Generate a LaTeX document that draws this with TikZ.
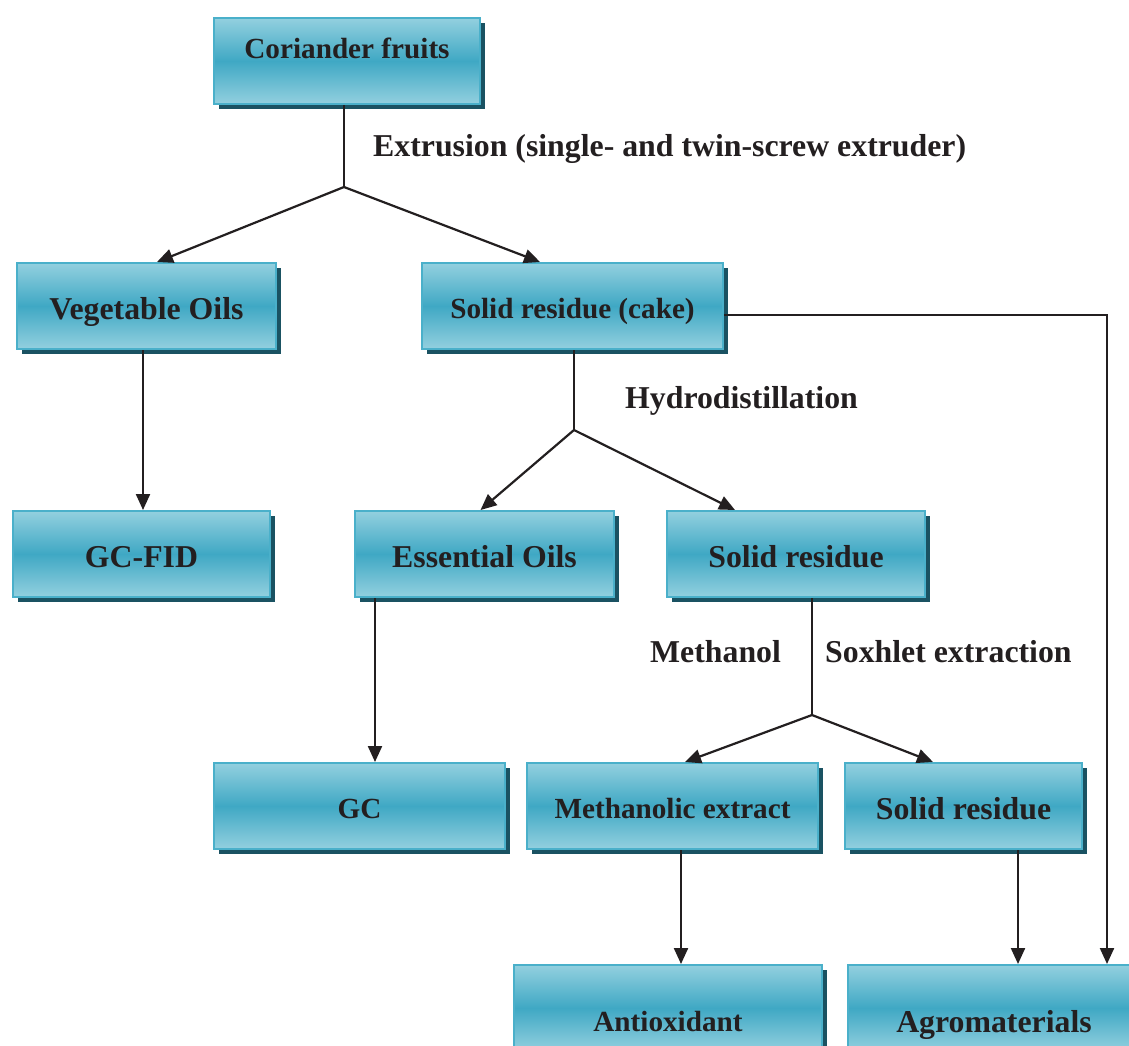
\documentclass[tikz,border=0pt]{standalone}
\usepackage{fontspec}
\setmainfont{Liberation Serif}
\usetikzlibrary{arrows.meta,shadows}
\definecolor{boxlight}{HTML}{93D0DF}
\definecolor{boxmid}{HTML}{3FA8C4}
\definecolor{boxline}{HTML}{4AB0CA}
\definecolor{boxshadow}{HTML}{1A5262}
\definecolor{ink}{HTML}{231F20}
\tikzset{
  flowbox/.style={rectangle, draw=boxline, line width=2pt,
    top color=boxlight, bottom color=boxlight, middle color=boxmid,
    drop shadow={shadow xshift=4.5pt, shadow yshift=-4.5pt, fill=boxshadow, opacity=1},
    text=ink, inner sep=0pt, font=\bfseries\fontsize{31.8}{36}\selectfont,
    text height=27pt, text depth=0pt, minimum height=86pt},
  smallfont/.style={font=\bfseries\fontsize{29.2}{34}\selectfont},
  steplabel/.style={text=ink, inner sep=0pt, anchor=base west, font=\bfseries\fontsize{31.8}{36}\selectfont},
  conn/.style={draw=ink, line width=2.2pt},
  arr/.style={conn, -{Triangle[length=16pt,width=14pt]}}
}
\begin{document}
\begin{tikzpicture}[x=1pt,y=-1pt]
\useasboundingbox[fill=white] (0,0) rectangle (1129,1045);

% boxes
\node[flowbox, smallfont, minimum width=266pt, text height=0pt, text depth=5pt] (cor) at (347,61) {Coriander fruits};
\node[flowbox, minimum width=259pt] (veg) at (146.5,306) {Vegetable Oils};
\node[flowbox, smallfont, minimum width=301pt, text height=24pt] (cake) at (572.5,306) {Solid residue (cake)};
\node[flowbox, minimum width=257pt] (gcfid) at (141.5,554) {GC-FID};
\node[flowbox, minimum width=259pt] (ess) at (484.5,554) {Essential Oils};
\node[flowbox, minimum width=258pt] (sr1) at (796,554) {Solid residue};
\node[flowbox, smallfont, minimum width=291pt, text height=25pt] (gc) at (359.5,806) {GC};
\node[flowbox, smallfont, minimum width=291pt, text height=25pt] (meth) at (672.5,806) {Methanolic extract};
\node[flowbox, minimum width=237pt, text height=27pt] (sr2) at (963.5,806) {Solid residue};
\node[flowbox, smallfont, minimum width=308pt, text height=47pt] (anti) at (668,1008) {Antioxidant};
\node[flowbox, minimum width=292pt, text height=48pt] (agro) at (994,1008) {Agromaterials};

% step labels
\node[steplabel] (lextr) at (373,156) {Extrusion (single- and twin-screw extruder)};
\node[steplabel] (lhyd) at (625,408) {Hydrodistillation};
\node[steplabel] (lmeth) at (650,662) {Methanol};
\node[steplabel] (lsox) at (825,662) {Soxhlet extraction};

% junctions
\coordinate (j1) at (344,187);
\coordinate (j2) at (574,430);
\coordinate (j3) at (812,715);
\coordinate (corner) at (1107,315);

% connectors
\draw[conn] (cor.south -| j1) -- (j1);
\draw[arr] (j1) -- ([xshift=10.5pt]veg.north);
\draw[arr] (j1) -- ([xshift=-32.5pt]cake.north);

\draw[arr] ([xshift=-3.5pt]veg.south) -- ([xshift=-3.5pt]veg.south |- gcfid.north);

\draw[conn] (cake.south -| j2) -- (j2);
\draw[arr] (j2) -- ([xshift=-4pt]ess.north);
\draw[arr] (j2) -- ([xshift=-61pt]sr1.north);

\draw[arr] ([yshift=-9pt]cake.east) -- (corner) -- (corner |- agro.north);

\draw[arr] ([xshift=-109.5pt]ess.south) -- ([xshift=-109.5pt]ess.south |- gc.north);

\draw[conn] (sr1.south -| j3) -- (j3);
\draw[arr] (j3) -- ([xshift=12.5pt]meth.north);
\draw[arr] (j3) -- ([xshift=-30.5pt]sr2.north);

\draw[arr] ([xshift=8.5pt]meth.south) -- ([xshift=8.5pt]meth.south |- anti.north);
\draw[arr] ([xshift=54.5pt]sr2.south) -- ([xshift=54.5pt]sr2.south |- agro.north);
\end{tikzpicture}
\end{document}
